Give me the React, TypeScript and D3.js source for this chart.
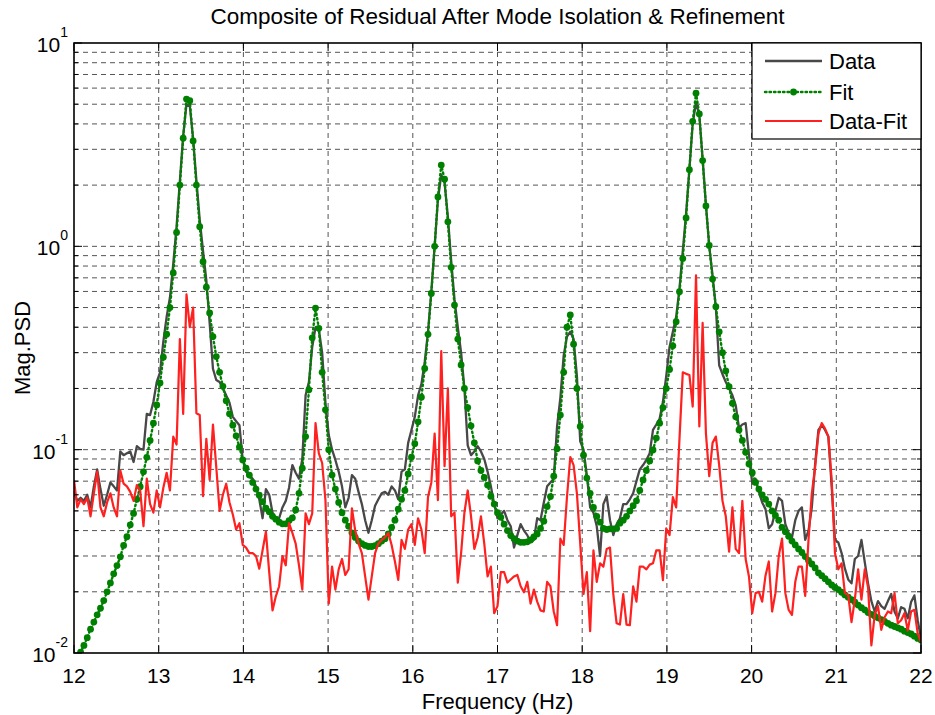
import React from "react";
import * as d3 from "d3";

// frequency grid (257 bins, 12..22 Hz)
const N_BINS = 257;
const F_MIN = 12;
const F_MAX = 22;
const FREQ = d3.range(N_BINS).map((k) => F_MIN + (k * (F_MAX - F_MIN)) / (N_BINS - 1));

const X_TICKS = [12, 13, 14, 15, 16, 17, 18, 19, 20, 21, 22];
const Y_DECADES = [-2, -1, 0, 1];

const TITLE = "Composite of Residual After Mode Isolation & Refinement";
const X_LABEL = "Frequency (Hz)";
const Y_LABEL = "Mag.PSD";
const SERIES_NAMES = ["Data", "Fit", "Data-Fit"];

const DATA = [
  0.062, 0.056, 0.058, 0.056, 0.060, 0.052, 0.066, 0.080, 0.064, 0.053,
  0.060, 0.069, 0.066, 0.063, 0.098, 0.094, 0.096, 0.098, 0.087, 0.104,
  0.101, 0.100, 0.150, 0.148, 0.172, 0.215, 0.24, 0.34, 0.45, 0.56,
  0.82, 1.25, 2.1, 3.5, 5.0, 4.9, 3.4, 2.1, 1.35, 0.95,
  0.68, 0.42, 0.25, 0.22, 0.215, 0.20, 0.185, 0.17, 0.145, 0.138,
  0.132, 0.089, 0.078, 0.075, 0.072, 0.066, 0.057, 0.046, 0.064, 0.060,
  0.049, 0.046, 0.046, 0.052, 0.056, 0.065, 0.084, 0.077, 0.072, 0.090,
  0.185, 0.215, 0.32, 0.40, 0.39, 0.30, 0.17, 0.118, 0.100, 0.089,
  0.078, 0.066, 0.052, 0.058, 0.075, 0.072, 0.062, 0.054, 0.045, 0.039,
  0.045, 0.053, 0.057, 0.061, 0.062, 0.060, 0.066, 0.063, 0.057, 0.078,
  0.080, 0.108, 0.125, 0.145, 0.185, 0.21, 0.27, 0.38, 0.60, 1.0,
  1.7, 2.25, 2.05, 1.40, 0.85, 0.55, 0.40, 0.30, 0.20, 0.105,
  0.094, 0.098, 0.104, 0.098, 0.090, 0.078, 0.066, 0.054, 0.046, 0.048,
  0.050, 0.045, 0.042, 0.033, 0.038, 0.043, 0.040, 0.038, 0.035, 0.036,
  0.046, 0.045, 0.055, 0.066, 0.069, 0.072, 0.13, 0.18, 0.29, 0.36,
  0.38, 0.35, 0.23, 0.11, 0.10, 0.075, 0.052, 0.049, 0.042, 0.030,
  0.054, 0.059, 0.045, 0.038, 0.043, 0.046, 0.054, 0.054, 0.057, 0.061,
  0.070, 0.080, 0.084, 0.089, 0.096, 0.125, 0.133, 0.142, 0.172, 0.23,
  0.32, 0.38, 0.45, 0.62, 0.95, 1.45, 2.4, 4.0, 5.1, 4.4,
  2.7, 1.6, 1.0, 0.72, 0.50, 0.26, 0.235, 0.215, 0.20, 0.185,
  0.165, 0.128, 0.133, 0.135, 0.095, 0.068, 0.072, 0.062, 0.055, 0.051,
  0.041, 0.043, 0.050, 0.058, 0.056, 0.043, 0.039, 0.037, 0.045, 0.050,
  0.052, 0.036, 0.040, 0.052, 0.085, 0.125, 0.132, 0.125, 0.116, 0.066,
  0.036, 0.035, 0.031, 0.026, 0.023, 0.022, 0.029, 0.030, 0.036, 0.028,
  0.022, 0.018, 0.016, 0.018, 0.017, 0.0165, 0.018, 0.0195, 0.016, 0.0148,
  0.0168, 0.0165, 0.0148, 0.0178, 0.0192, 0.0145, 0.0118,
];

const FIT = [
  0.0087, 0.0094, 0.0101, 0.0109, 0.0119, 0.0131, 0.0142, 0.0154, 0.0166, 0.0181,
  0.0200, 0.0221, 0.0245, 0.0269, 0.0297, 0.0338, 0.0373, 0.0427, 0.0486, 0.0570,
  0.0657, 0.0778, 0.0917, 0.111, 0.135, 0.166, 0.213, 0.285, 0.37, 0.50,
  0.74, 1.17, 2.0, 3.4, 5.3, 5.2, 3.3, 2.0, 1.25, 0.84,
  0.63, 0.47, 0.36, 0.287, 0.24, 0.205, 0.174, 0.150, 0.132, 0.117,
  0.103, 0.089, 0.081, 0.075, 0.069, 0.064, 0.0597, 0.0555, 0.0515, 0.0495,
  0.047, 0.0455, 0.044, 0.0432, 0.0432, 0.0448, 0.0462, 0.0505, 0.061, 0.081,
  0.116, 0.197, 0.355, 0.497, 0.395, 0.24, 0.157, 0.10, 0.075, 0.064,
  0.055, 0.049, 0.045, 0.042, 0.039, 0.037, 0.0355, 0.0345, 0.0338, 0.0334,
  0.0334, 0.0337, 0.0345, 0.0355, 0.0365, 0.0385, 0.0415, 0.045, 0.051, 0.057,
  0.063, 0.076, 0.092, 0.107, 0.137, 0.181, 0.251, 0.369, 0.587, 1.0,
  1.75, 2.51, 2.14, 1.32, 0.788, 0.514, 0.35, 0.261, 0.20, 0.161,
  0.131, 0.108, 0.088, 0.079, 0.073, 0.067, 0.059, 0.054, 0.049, 0.0465,
  0.043, 0.040, 0.0378, 0.0365, 0.0355, 0.035, 0.035, 0.0352, 0.036, 0.0372,
  0.0385, 0.041, 0.0445, 0.0525, 0.0588, 0.074, 0.101, 0.148, 0.24, 0.40,
  0.46, 0.33, 0.20, 0.13, 0.094, 0.0725, 0.061, 0.052, 0.047, 0.044,
  0.041, 0.0405, 0.0408, 0.0408, 0.041, 0.0435, 0.045, 0.047, 0.050, 0.053,
  0.056, 0.063, 0.071, 0.079, 0.088, 0.0996, 0.114, 0.135, 0.161, 0.20,
  0.248, 0.324, 0.426, 0.598, 0.871, 1.38, 2.38, 4.12, 5.66, 4.48,
  2.64, 1.58, 1.01, 0.69, 0.505, 0.38, 0.30, 0.244, 0.204, 0.169,
  0.145, 0.125, 0.111, 0.097, 0.085, 0.077, 0.069, 0.064, 0.060, 0.057,
  0.054, 0.050, 0.0475, 0.045, 0.0415, 0.0395, 0.0375, 0.0355, 0.034, 0.0325,
  0.0312, 0.0298, 0.0285, 0.0274, 0.0262, 0.0248, 0.024, 0.0232, 0.0224, 0.0216,
  0.021, 0.0205, 0.0199, 0.0193, 0.0188, 0.0183, 0.0178, 0.0172, 0.0167, 0.0163,
  0.0158, 0.0155, 0.0152, 0.0149, 0.0146, 0.0143, 0.014, 0.0137, 0.0135, 0.0133,
  0.0131, 0.0128, 0.0126, 0.0124, 0.0121, 0.0118, 0.0116,
];

const RESIDUAL = [
  0.071, 0.052, 0.057, 0.054, 0.058, 0.047, 0.061, 0.078, 0.052, 0.047,
  0.055, 0.061, 0.052, 0.047, 0.079, 0.068, 0.066, 0.062, 0.056, 0.067,
  0.063, 0.042, 0.072, 0.054, 0.049, 0.063, 0.052, 0.065, 0.077, 0.063,
  0.116, 0.106, 0.35, 0.15, 0.58, 0.40, 0.50, 0.151, 0.148, 0.059,
  0.113, 0.071, 0.133, 0.082, 0.050, 0.060, 0.068, 0.055, 0.048, 0.0405,
  0.0435, 0.034, 0.033, 0.031, 0.031, 0.030, 0.026, 0.032, 0.0395, 0.025,
  0.0162, 0.019, 0.0213, 0.030, 0.027, 0.0435, 0.039, 0.0345, 0.027, 0.0205,
  0.0486, 0.043, 0.0486, 0.135, 0.096, 0.086, 0.0565, 0.0175, 0.0266, 0.0205,
  0.0258, 0.029, 0.0242, 0.0258, 0.0515, 0.040, 0.0346, 0.031, 0.0238, 0.0183,
  0.0238, 0.031, 0.0346, 0.036, 0.037, 0.039, 0.034, 0.0282, 0.0229, 0.036,
  0.0325, 0.0405, 0.043, 0.034, 0.046, 0.0405, 0.031, 0.0585, 0.069, 0.12,
  0.0565, 0.305, 0.083, 0.20, 0.047, 0.049, 0.0222, 0.031, 0.049, 0.063,
  0.047, 0.0325, 0.037, 0.047, 0.0345, 0.0238, 0.0266, 0.0157, 0.017, 0.025,
  0.025, 0.0222, 0.023, 0.0238, 0.0242, 0.0213, 0.0199, 0.0224, 0.0175, 0.0205,
  0.0179, 0.0162, 0.016, 0.0224, 0.0213, 0.016, 0.0137, 0.0365, 0.034, 0.0585,
  0.092, 0.084, 0.061, 0.0346, 0.0195, 0.025, 0.0128, 0.032, 0.0224, 0.0276,
  0.0266, 0.0325, 0.033, 0.0195, 0.014, 0.0138, 0.0195, 0.0138, 0.0137, 0.0213,
  0.0179, 0.0266, 0.0266, 0.0258, 0.0272, 0.0276, 0.032, 0.032, 0.0228, 0.041,
  0.038, 0.0585, 0.052, 0.113, 0.24, 0.236, 0.233, 0.163, 0.72, 0.13,
  0.42, 0.12, 0.074, 0.108, 0.116, 0.084, 0.056, 0.047, 0.0315, 0.052,
  0.0325, 0.031, 0.056, 0.029, 0.0238, 0.0157, 0.0197, 0.020, 0.0179, 0.024,
  0.0282, 0.016, 0.0197, 0.030, 0.0365, 0.0197, 0.0163, 0.0154, 0.0224, 0.0266,
  0.0266, 0.0191, 0.036, 0.061, 0.082, 0.12, 0.135, 0.127, 0.116, 0.071,
  0.031, 0.0258, 0.0276, 0.0197, 0.0193, 0.0142, 0.0183, 0.0258, 0.0183, 0.0258,
  0.021, 0.0109, 0.0154, 0.017, 0.013, 0.015, 0.016, 0.0157, 0.0197, 0.014,
  0.0145, 0.0157, 0.0129, 0.016, 0.0163, 0.0125, 0.0113,
];

const W = 935;
const H = 715;
const PL = 74;
const PR = 921;
const PT = 43;
const PB = 653;
const FONT = "'Liberation Sans', Arial, Helvetica, sans-serif";
const GRAY = "#484848";
const GREEN = "#008000";
const RED = "#ff2020";

export default function App() {
  const x = d3.scaleLinear().domain([F_MIN, F_MAX]).range([PL, PR]);
  const y = d3.scaleLog().domain([0.01, 10]).range([PB, PT]);

  const line = d3
    .line<number>()
    .x((_, i) => x(FREQ[i]))
    .y((v) => y(v));

  const minor: number[] = [];
  Y_DECADES.slice(0, 3).forEach((d) => {
    for (let m = 2; m <= 9; m++) minor.push(m * Math.pow(10, d));
  });
  const majors = Y_DECADES.map((d) => Math.pow(10, d));

  const gridStyle = { stroke: "#555", strokeWidth: 1, strokeDasharray: "5,4" };

  return (
    <svg
      width={W}
      height={H}
      style={{ position: "absolute", left: 0, top: 0, background: "#fff" }}
      fontFamily={FONT}
    >
      <defs>
        <clipPath id="plotclip">
          <rect x={PL} y={PT} width={PR - PL} height={PB - PT} />
        </clipPath>
      </defs>
      <rect x={0} y={0} width={W} height={H} fill="#fff" />

      {/* grid */}
      <g>
        {X_TICKS.slice(1, -1).map((t) => (
          <line key={"gx" + t} x1={x(t)} x2={x(t)} y1={PT} y2={PB} {...gridStyle} />
        ))}
        {minor.concat(majors.slice(1, 3)).map((v, i) => (
          <line key={"gy" + i} x1={PL} x2={PR} y1={y(v)} y2={y(v)} {...gridStyle} />
        ))}
      </g>

      {/* series */}
      <g clipPath="url(#plotclip)">
        <path d={line(DATA) || ""} fill="none" stroke={GRAY} strokeWidth={2.3} strokeLinejoin="round" />
        <path
          d={line(FIT) || ""}
          fill="none"
          stroke={GREEN}
          strokeWidth={2.4}
          strokeDasharray="1.5,3"
          strokeLinecap="round"
        />
        {FIT.map((v, i) => (
          <circle key={"m" + i} cx={x(FREQ[i])} cy={y(v)} r={3.4} fill={GREEN} />
        ))}
        <path d={line(RESIDUAL) || ""} fill="none" stroke={RED} strokeWidth={2.2} strokeLinejoin="round" />
      </g>

      {/* ticks */}
      <g stroke="#000" strokeWidth={1}>
        {X_TICKS.map((t) => (
          <g key={"tx" + t}>
            <line x1={x(t)} x2={x(t)} y1={PB} y2={PB - 8} />
            <line x1={x(t)} x2={x(t)} y1={PT} y2={PT + 8} />
          </g>
        ))}
        {majors.map((v, i) => (
          <g key={"ty" + i}>
            <line x1={PL} x2={PL + 8} y1={y(v)} y2={y(v)} />
            <line x1={PR} x2={PR - 8} y1={y(v)} y2={y(v)} />
          </g>
        ))}
        {minor.map((v, i) => (
          <g key={"tm" + i}>
            <line x1={PL} x2={PL + 4} y1={y(v)} y2={y(v)} />
            <line x1={PR} x2={PR - 4} y1={y(v)} y2={y(v)} />
          </g>
        ))}
      </g>

      {/* frame */}
      <rect x={PL} y={PT} width={PR - PL} height={PB - PT} fill="none" stroke="#000" strokeWidth={1.6} />

      {/* tick labels */}
      <g fontSize={21} fill="#000">
        {X_TICKS.map((t) => (
          <text key={"lx" + t} x={x(t)} y={683} textAnchor="middle">
            {t}
          </text>
        ))}
        {Y_DECADES.map((d) => (
          <text key={"ly" + d} x={68} y={y(Math.pow(10, d)) + 9} textAnchor="end">
            10
            <tspan fontSize={14} dy={-15}>
              {d}
            </tspan>
          </text>
        ))}
      </g>

      {/* labels */}
      <text x={(PL + PR) / 2} y={24} textAnchor="middle" fontSize={22.5}>
        {TITLE}
      </text>
      <text x={(PL + PR) / 2} y={709} textAnchor="middle" fontSize={22}>
        {X_LABEL}
      </text>
      <text
        transform={`translate(30, ${(PT + PB) / 2}) rotate(-90)`}
        textAnchor="middle"
        fontSize={22}
      >
        {Y_LABEL}
      </text>

      {/* legend */}
      <g>
        <rect x={752} y={PT} width={PR - 752} height={96} fill="#fff" stroke="#000" strokeWidth={1.2} />
        <line x1={765} x2={822} y1={61} y2={61} stroke={GRAY} strokeWidth={2.3} />
        <line x1={765} x2={822} y1={92} y2={92} stroke={GREEN} strokeWidth={2.4} strokeDasharray="1.5,3" strokeLinecap="round" />
        <circle cx={793.5} cy={92} r={3.4} fill={GREEN} />
        <line x1={765} x2={822} y1={121} y2={121} stroke={RED} strokeWidth={2.2} />
        {SERIES_NAMES.map((n, i) => (
          <text key={n} x={829} y={[69, 100, 129][i]} fontSize={22} fill="#000">
            {n}
          </text>
        ))}
      </g>
    </svg>
  );
}
